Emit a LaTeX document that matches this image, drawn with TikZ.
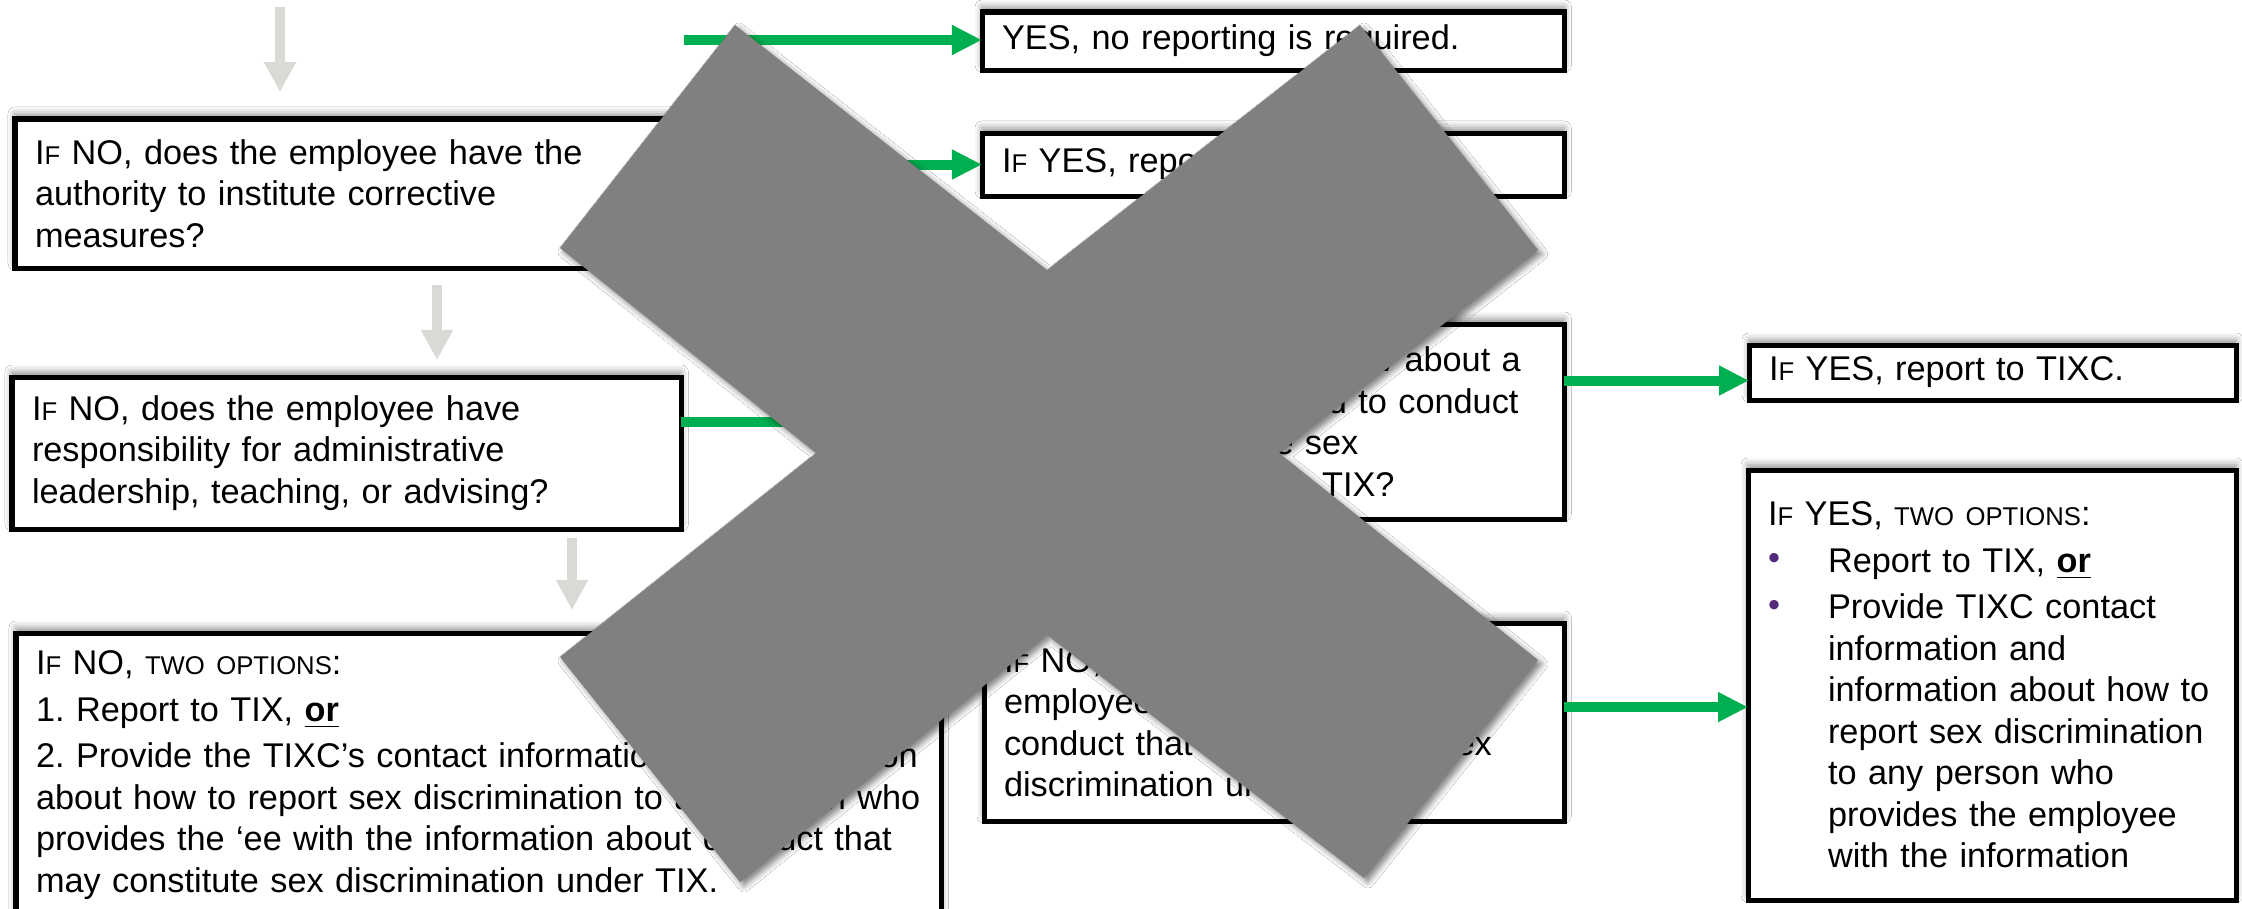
\documentclass[tikz,border=0pt]{standalone}
\usepackage{fontspec}
\setmainfont{Liberation Sans}
\usepackage{xcolor}
\usepackage{tikz}
\usetikzlibrary{arrows.meta}
\usetikzlibrary{positioning}
\usetikzlibrary{calc}
\usetikzlibrary{shadows.blur}

\definecolor{arrowgreen}{RGB}{0,176,80}
\definecolor{arrowgray}{RGB}{217,217,213}
\definecolor{crossgray}{RGB}{128,128,128}
\definecolor{bulletpurple}{RGB}{84,44,124}

\newcommand{\smc}[1]{{\fontsize{7.3pt}{11.8pt}\selectfont #1}}
\newcommand{\orr}{\underline{\textbf{or}}}
\newcommand{\bul}[2]{\makebox[0.6cm][l]{\raisebox{0.08em}{\textcolor{bulletpurple}{\textbullet}}}\parbox[t]{#1}{\raggedright #2}}
\frenchspacing

\begin{document}
\begin{tikzpicture}[x=0.01cm, y=-0.01cm,
	every node/.style={font=\fontsize{9.75pt}{11.8pt}\selectfont},
	box/.style={draw, line width=0.05cm, fill=white, outer sep=0pt, align=left, inner xsep=0.2cm, anchor=north west,
		blur shadow={shadow xshift=0cm, shadow yshift=0.05cm, shadow blur radius=0.07cm, shadow opacity=45}},
	greenarrow/.style={arrowgreen, line width=0.1cm, -{Triangle[length=0.3cm, width=0.28cm]}},
	grayarrow/.style={arrowgray, line width=0.1cm, -{Triangle[length=0.3cm, width=0.3cm]}}]
			\useasboundingbox (0,0) rectangle (2242,909);
			\clip (0,0) rectangle (2242,909);
			\fill[white] (0,0) rectangle (2242,909);
			
			% left column
			\node[box, text width=6.26cm, minimum height=1.49cm] (A) at (15,119) {I\smc{F} NO, does the employee have the\\ authority to institute corrective\\ measures?};
			\node[box, text width=6.29cm, minimum height=1.52cm] (B) at (12,377) {I\smc{F} NO, does the employee have\\ responsibility for administrative\\ leadership, teaching, or advising?};
			\node[box, text width=8.85cm, inner ysep=0.18cm] (C) at (16,633) {I\smc{F} NO, \smc{TWO OPTIONS}:\\[0.05cm] 1. Report to TIX, \orr\\[0.05cm] \mbox{2. Provide the TIXC’s contact information and information}\\ \mbox{about how to report sex discrimination to any person who}\\ \mbox{provides the ‘ee with the information about conduct that}\\ may constitute sex discrimination under TIX.\\[0.3cm]\mbox{}};
			
			% middle column
			\node[box, text width=5.42cm, minimum height=0.58cm] (D) at (982,12) {YES, no reporting is required.};
			\node[box, text width=5.42cm, minimum height=0.63cm] (E) at (982,133) {I\smc{F} YES, report to TIXC.};
			\node[box, text width=5.42cm, minimum height=1.95cm] (F) at (982,324) {I\smc{F} NO, does the ‘ee know about a\\ student who is alleged to conduct\\ that may constitute sex\\ discrimination under TIX?};
			\node[box, text width=5.40cm, minimum height=1.98cm] (G) at (984,623) {I\smc{F} NO, did the\\ employee otherwise learn about\\ conduct that may constitute sex\\ discrimination under TIX?};
			
			% right column
			\node[box, text width=4.47cm, minimum height=0.55cm] (H) at (1749,345) {I\smc{F} YES, report to TIXC.};
			\node[box, text width=4.48cm, minimum height=4.30cm] (I) at (1748,470) {I\smc{F} YES, \smc{TWO OPTIONS}:\\[0.05cm]
				\bul{3.87cm}{Report to TIX, \orr}\\[0.05cm]
				\bul{3.87cm}{Provide TIXC contact\\ information and\\ information about how to\\ report sex discrimination\\ to any person who\\ provides the employee\\ with the information}};
			
			% gray arrows down the left column
			\coordinate (topin) at (280,7);
			\draw[grayarrow] (topin) -- ($(A.north west)+(265,-27)$);
			\draw[grayarrow] ($(A.south west)+(422,17)$) -- ($(B.north west)+(425,-17)$);
			\draw[grayarrow] ($(B.south west)+(560,9)$) -- ($(C.north west)+(556,-23)$);
			
			% green arrows
			\coordinate (yesin) at (684,40);
			\draw[greenarrow] (yesin) -- (yesin -| D.west);
			\foreach \src/\dst in {A/E, B/F}
			{
				\draw[greenarrow] (\src.east |- \dst.west) -- (\dst.west);
			}
			\draw[greenarrow] ($(F.east |- H.west)+(0,8)$) -- ($(H.west)+(0,8)$);
			\draw[greenarrow] ($(G.east)+(0,-15)$) -- ($(G.east -| I.west)+(0,-15)$);
			
			% the cross over the chart
			\fill[crossgray, blur shadow={shadow xshift=0.04cm, shadow yshift=-0.04cm, shadow blur radius=0.06cm, shadow opacity=50}]
				(735,25) -- (1047,270) -- (1360,25) -- (1538,250) -- (1279,453) -- (1538,660) -- (1364,878)
				-- (1047,635) -- (740,882) -- (560,657) -- (816,453) -- (560,248) -- cycle;
		\end{tikzpicture}
\end{document}
